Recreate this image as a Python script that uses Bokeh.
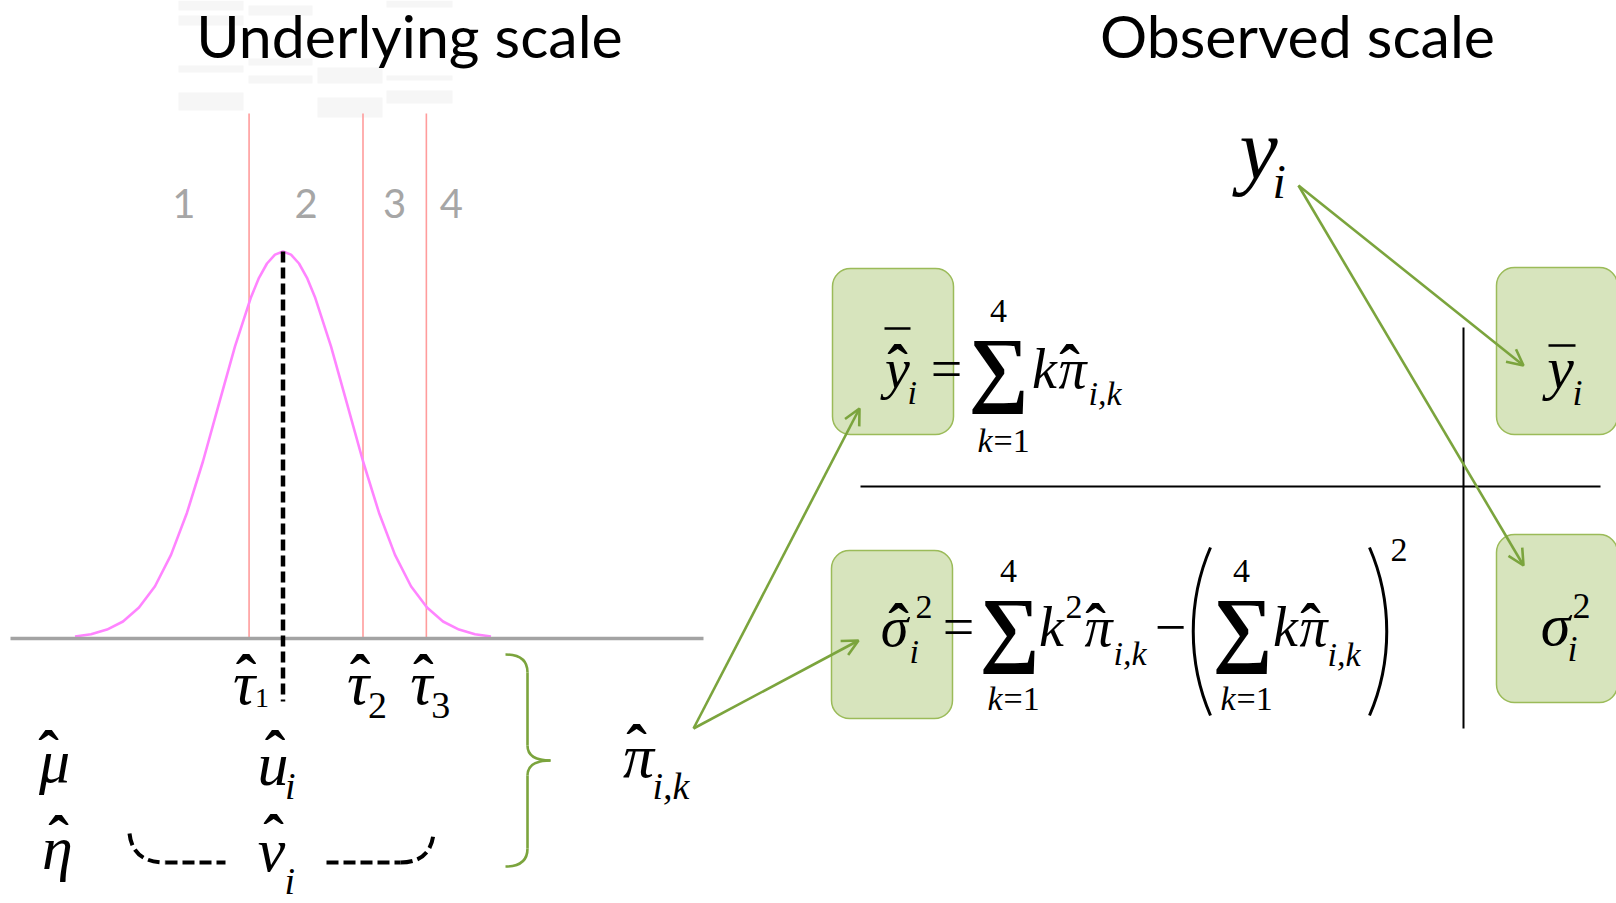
from bokeh.plotting import figure
from bokeh.models import Range1d, Arrow, OpenHead
from bokeh.core.properties import value
from bokeh.embed import file_html
from bokeh.resources import INLINE

W, H = 1616, 903

# ---- latent (underlying) scale values ----
categories = ["1", "2", "3", "4"]
category_pos = [-1.55, 0.36, 1.745, 2.63]      # latent position of each category label
thresholds = [-0.53, 1.25, 2.24]                # tau_1, tau_2, tau_3
threshold_subs = ["1", "2", "3"]
u_hat = 0.0                                     # predicted latent value u_i

# latent density, relative to its peak
curve_z = [-3.25, -3.0, -2.75, -2.5, -2.25, -2.0, -1.75, -1.5, -1.25, -1.0,
           -0.75, -0.5, -0.375, -0.25, -0.125, 0.0, 0.125, 0.25, 0.375, 0.5,
           0.75, 1.0, 1.25, 1.5, 1.75, 2.0, 2.25, 2.5, 2.75, 3.0, 3.25]
curve_h = [0.005, 0.011, 0.023, 0.044, 0.080, 0.135, 0.216, 0.325, 0.458, 0.607,
           0.755, 0.882, 0.932, 0.969, 0.992, 1.0, 0.992, 0.969, 0.932, 0.882,
           0.755, 0.607, 0.458, 0.325, 0.216, 0.135, 0.080, 0.044, 0.023, 0.011, 0.005]

# ---- page geometry (pixels) ----
Z0, ZS = 282.5, 64.0        # pixel of latent 0, pixels per latent unit
BASE, PEAK = 638.0, 387.0   # baseline pixel, pixel height of the density peak

SERIF_NAME, SANS_NAME = "Liberation Serif", "Lato"
SERIF, SANS = value(SERIF_NAME), value(SANS_NAME)
# baseline correction (fraction of the font size) for each face
LIFT = {SERIF_NAME: 0.34, SANS_NAME: 0.40}

GREEN = "#7ba43d"
BOX_FILL = "#d7e4bd"
BOX_LINE = "#9bbb59"

p = figure(width=W, height=H, output_backend="svg", toolbar_location=None,
           x_range=Range1d(0, W), y_range=Range1d(H, 0),
           min_border=0, outline_line_color=None, background_fill_color="white")
p.axis.visible = False
p.grid.visible = False
p.extra_x_ranges = {"latent": Range1d((0 - Z0) / ZS, (W - Z0) / ZS)}
p.extra_y_ranges = {"dens": Range1d((BASE - H) / PEAK, BASE / PEAK)}


def ty(y, size, face=SERIF_NAME):
    return y - LIFT[face] * size


def tx(x, y, s, size, italic=False, bold=False, align="center", color="black",
       face=SERIF_NAME, raw=False, **kw):
    style = "bold italic" if (bold and italic) else ("bold" if bold else ("italic" if italic else "normal"))
    p.text(x=[x], y=[y if raw else ty(y, size, face)], text=[s], text_font=value(face),
           text_font_size=f"{size}px", text_font_style=style, text_align=align,
           text_baseline="alphabetic", text_color=color, **kw)


HAT = 62


def hat(xc, yc, size=HAT, **kw):
    tx(xc, yc + 0.6 * size, "\u02c6", size, bold=True, **kw)


# faint background stripes behind the left title
ghost_l = [178, 178, 178, 178, 248, 248, 248, 317, 317, 386, 386, 386]
ghost_r = [243, 243, 243, 243, 312, 312, 312, 382, 382, 452, 452, 452]
ghost_t = [0, 15, 65, 92, 5, 58, 75, 67, 97, 0, 75, 90]
ghost_b = [10, 25, 72, 110, 15, 65, 83, 83, 117, 7, 80, 103]
p.quad(left=ghost_l, right=ghost_r, top=ghost_t, bottom=ghost_b,
       fill_color="#f6f6f6", line_color=None)

# ---- titles ----
tx(409, 58.5, "Underlying scale", 59, face=SANS_NAME)
tx(1297, 58.5, "Observed scale", 59, face=SANS_NAME)

# ---- underlying scale ----
p.segment(x0=thresholds, x1=thresholds, y0=[113] * 3, y1=[BASE + 1] * 3,
          x_range_name="latent", line_color="#ff9c9c", line_width=1.6)
p.line(curve_z, curve_h, x_range_name="latent", y_range_name="dens",
       line_color="#ff84ff", line_width=2.6)
p.segment(x0=[10], y0=[BASE], x1=[703], y1=[BASE], line_color="#a3a3a3", line_width=3.5)
p.segment(x0=[u_hat], x1=[u_hat], y0=[max(curve_h)], y1=[(BASE - 701) / PEAK],
          x_range_name="latent", y_range_name="dens",
          line_color="black", line_width=4.5, line_dash="11 5")
p.text(x=category_pos, y=[ty(219, 40, SANS_NAME)] * 4, text=categories, x_range_name="latent",
       text_font=SANS, text_font_size="40px", text_align="center",
       text_baseline="alphabetic", text_color="#a6a6a6")

# threshold labels
p.text(x=thresholds, y=[ty(704, 62)] * 3, text=["\u03c4"] * 3, x_range_name="latent",
       x_offset=-5, text_font=SERIF, text_font_size="62px", text_font_style="italic",
       text_align="center", text_baseline="alphabetic")
p.text(x=thresholds, y=[ty(660 + 0.6 * HAT, HAT)] * 3, text=["\u02c6"] * 3,
       x_range_name="latent", x_offset=-3, text_font=SERIF, text_font_size=f"{HAT}px",
       text_font_style="bold", text_align="center", text_baseline="alphabetic")
p.text(x=thresholds[:1], y=[ty(707, 28)], text=threshold_subs[:1], x_range_name="latent",
       x_offset=6, text_font=SERIF, text_font_size="28px", text_align="left",
       text_baseline="alphabetic")
p.text(x=thresholds[1:], y=[ty(718, 38)] * 2, text=threshold_subs[1:], x_range_name="latent",
       x_offset=5, text_font=SERIF, text_font_size="38px", text_align="left",
       text_baseline="alphabetic")

# u_i
p.text(x=[u_hat], y=[ty(785, 62)], text=["u"], x_range_name="latent", x_offset=-10,
       text_font=SERIF, text_font_size="62px", text_font_style="italic",
       text_align="center", text_baseline="alphabetic")
p.text(x=[u_hat], y=[ty(736 + 0.6 * HAT, HAT)], text=["\u02c6"], x_range_name="latent",
       x_offset=-8, text_font=SERIF, text_font_size=f"{HAT}px", text_font_style="bold",
       text_align="center", text_baseline="alphabetic")
p.text(x=[u_hat], y=[ty(798, 38)], text=["i"], x_range_name="latent", x_offset=2,
       text_font=SERIF, text_font_size="38px", text_font_style="italic",
       text_align="left", text_baseline="alphabetic")

# mu, eta, v_i
tx(54, 782, "\u03bc", 62, italic=True)
hat(48, 736)
tx(57, 869, "\u03b7", 62, italic=True)
hat(58, 821)
tx(271, 871, "v", 62, italic=True)
hat(273, 820)
tx(284, 893, "i", 38, italic=True, align="left")

# dashed brackets under the latent scale
p.quadratic(x0=[129, 400], y0=[833, 862], x1=[165, 433], y1=[862, 833],
            cx=[132, 430], cy=[862, 862], line_color="black", line_width=4, line_dash="12 5")
p.segment(x0=[165, 326], y0=[862, 862], x1=[225, 400], y1=[862, 862],
          line_color="black", line_width=4, line_dash="12 5")

# green brace
p.quadratic(x0=[505, 527, 550, 527], y0=[654, 745, 760, 848],
            x1=[527, 550, 527, 505], y1=[672, 760, 775, 866],
            cx=[527, 527, 527, 527], cy=[654, 760, 760, 866],
            line_color=GREEN, line_width=2.6)
p.segment(x0=[527, 527], y0=[672, 775], x1=[527, 527], y1=[745, 848],
          line_color=GREEN, line_width=2.6)

# pi_{i,k}
tx(638, 777, "\u03c0", 62, italic=True)
hat(636, 730)
tx(652, 798, "i,k", 38, italic=True, align="left")

# ---- observed scale ----
p.quad(left=[832, 831, 1496, 1496], right=[953, 952, 1617, 1617],
       top=[268, 550, 267, 534], bottom=[434, 718, 434, 702],
       fill_color=BOX_FILL, line_color=BOX_LINE, line_width=1.5, border_radius=18)

p.segment(x0=[860, 1463], y0=[486, 327], x1=[1600, 1463], y1=[486, 728],
          line_color="black", line_width=2)

# y_i
tx(1258, 178, "y", 86, italic=True)
tx(1272, 197, "i", 48, italic=True, align="left")

F, FS, FSUM = 56, 34, 84

# estimated mean
tx(897, 388, "y", F, italic=True)
hat(897, 350)
p.segment(x0=[884], y0=[328], x1=[910], y1=[328], line_color="black", line_width=2.5)
tx(907, 404, "i", FS, italic=True, align="left")
tx(946, 388, "=", F)
tx(998, 367, "\u2211", FSUM, bold=True, raw=True)
tx(998, 322, "4", FS)
tx(977, 452, "k", FS, italic=True, align="left")
tx(993, 452, "=1", FS, align="left")
tx(1044, 388, "k", F, italic=True)
tx(1072, 388, "\u03c0", F, italic=True)
hat(1069, 350)
tx(1088, 405, "i,k", FS, italic=True, align="left")

# estimated variance
tx(894, 646, "\u03c3", F, italic=True)
hat(898, 609)
tx(915, 618, "2", FS, align="left")
tx(909, 663, "i", FS, italic=True, align="left")
tx(958, 646, "=", F)
tx(1009, 627, "\u2211", FSUM, bold=True, raw=True)
tx(1008, 582, "4", FS)
tx(987, 710, "k", FS, italic=True, align="left")
tx(1003, 710, "=1", FS, align="left")
tx(1051, 646, "k", F, italic=True)
tx(1065, 618, "2", FS, align="left")
tx(1098, 646, "\u03c0", F, italic=True)
hat(1095, 609)
tx(1113, 665, "i,k", FS, italic=True, align="left")
tx(1170, 646, "\u2212", F)
p.bezier(x0=[1210, 1369], y0=[547, 547], x1=[1210, 1369], y1=[715, 715],
         cx0=[1187, 1392], cy0=[600, 600], cx1=[1187, 1392], cy1=[662, 662],
         line_color="black", line_width=3)
tx(1242, 627, "\u2211", FSUM, bold=True, raw=True)
tx(1241, 582, "4", FS)
tx(1220, 710, "k", FS, italic=True, align="left")
tx(1236, 710, "=1", FS, align="left")
tx(1285, 646, "k", F, italic=True)
tx(1313, 646, "\u03c0", F, italic=True)
hat(1310, 609)
tx(1327, 666, "i,k", FS, italic=True, align="left")
tx(1390, 561, "2", FS, align="left")

# observed mean and variance
tx(1560, 388, "y", 60, italic=True)
p.segment(x0=[1548], y0=[345], x1=[1575], y1=[345], line_color="black", line_width=2.5)
tx(1572, 405, "i", 36, italic=True, align="left")
tx(1555, 645, "\u03c3", 60, italic=True)
tx(1572, 618, "2", 36, align="left")
tx(1567, 661, "i", 36, italic=True, align="left")

# arrows
for xs, ys, xe, ye in [(693, 728, 859, 408), (693, 728, 858, 640),
                       (1298, 185, 1523, 365), (1298, 185, 1523, 565)]:
    p.add_layout(Arrow(end=OpenHead(size=16, line_color=GREEN, line_width=2.6),
                       x_start=xs, y_start=ys, x_end=xe, y_end=ye,
                       line_color=GREEN, line_width=2.6))

open("out.html", "w").write(file_html(p, INLINE))
